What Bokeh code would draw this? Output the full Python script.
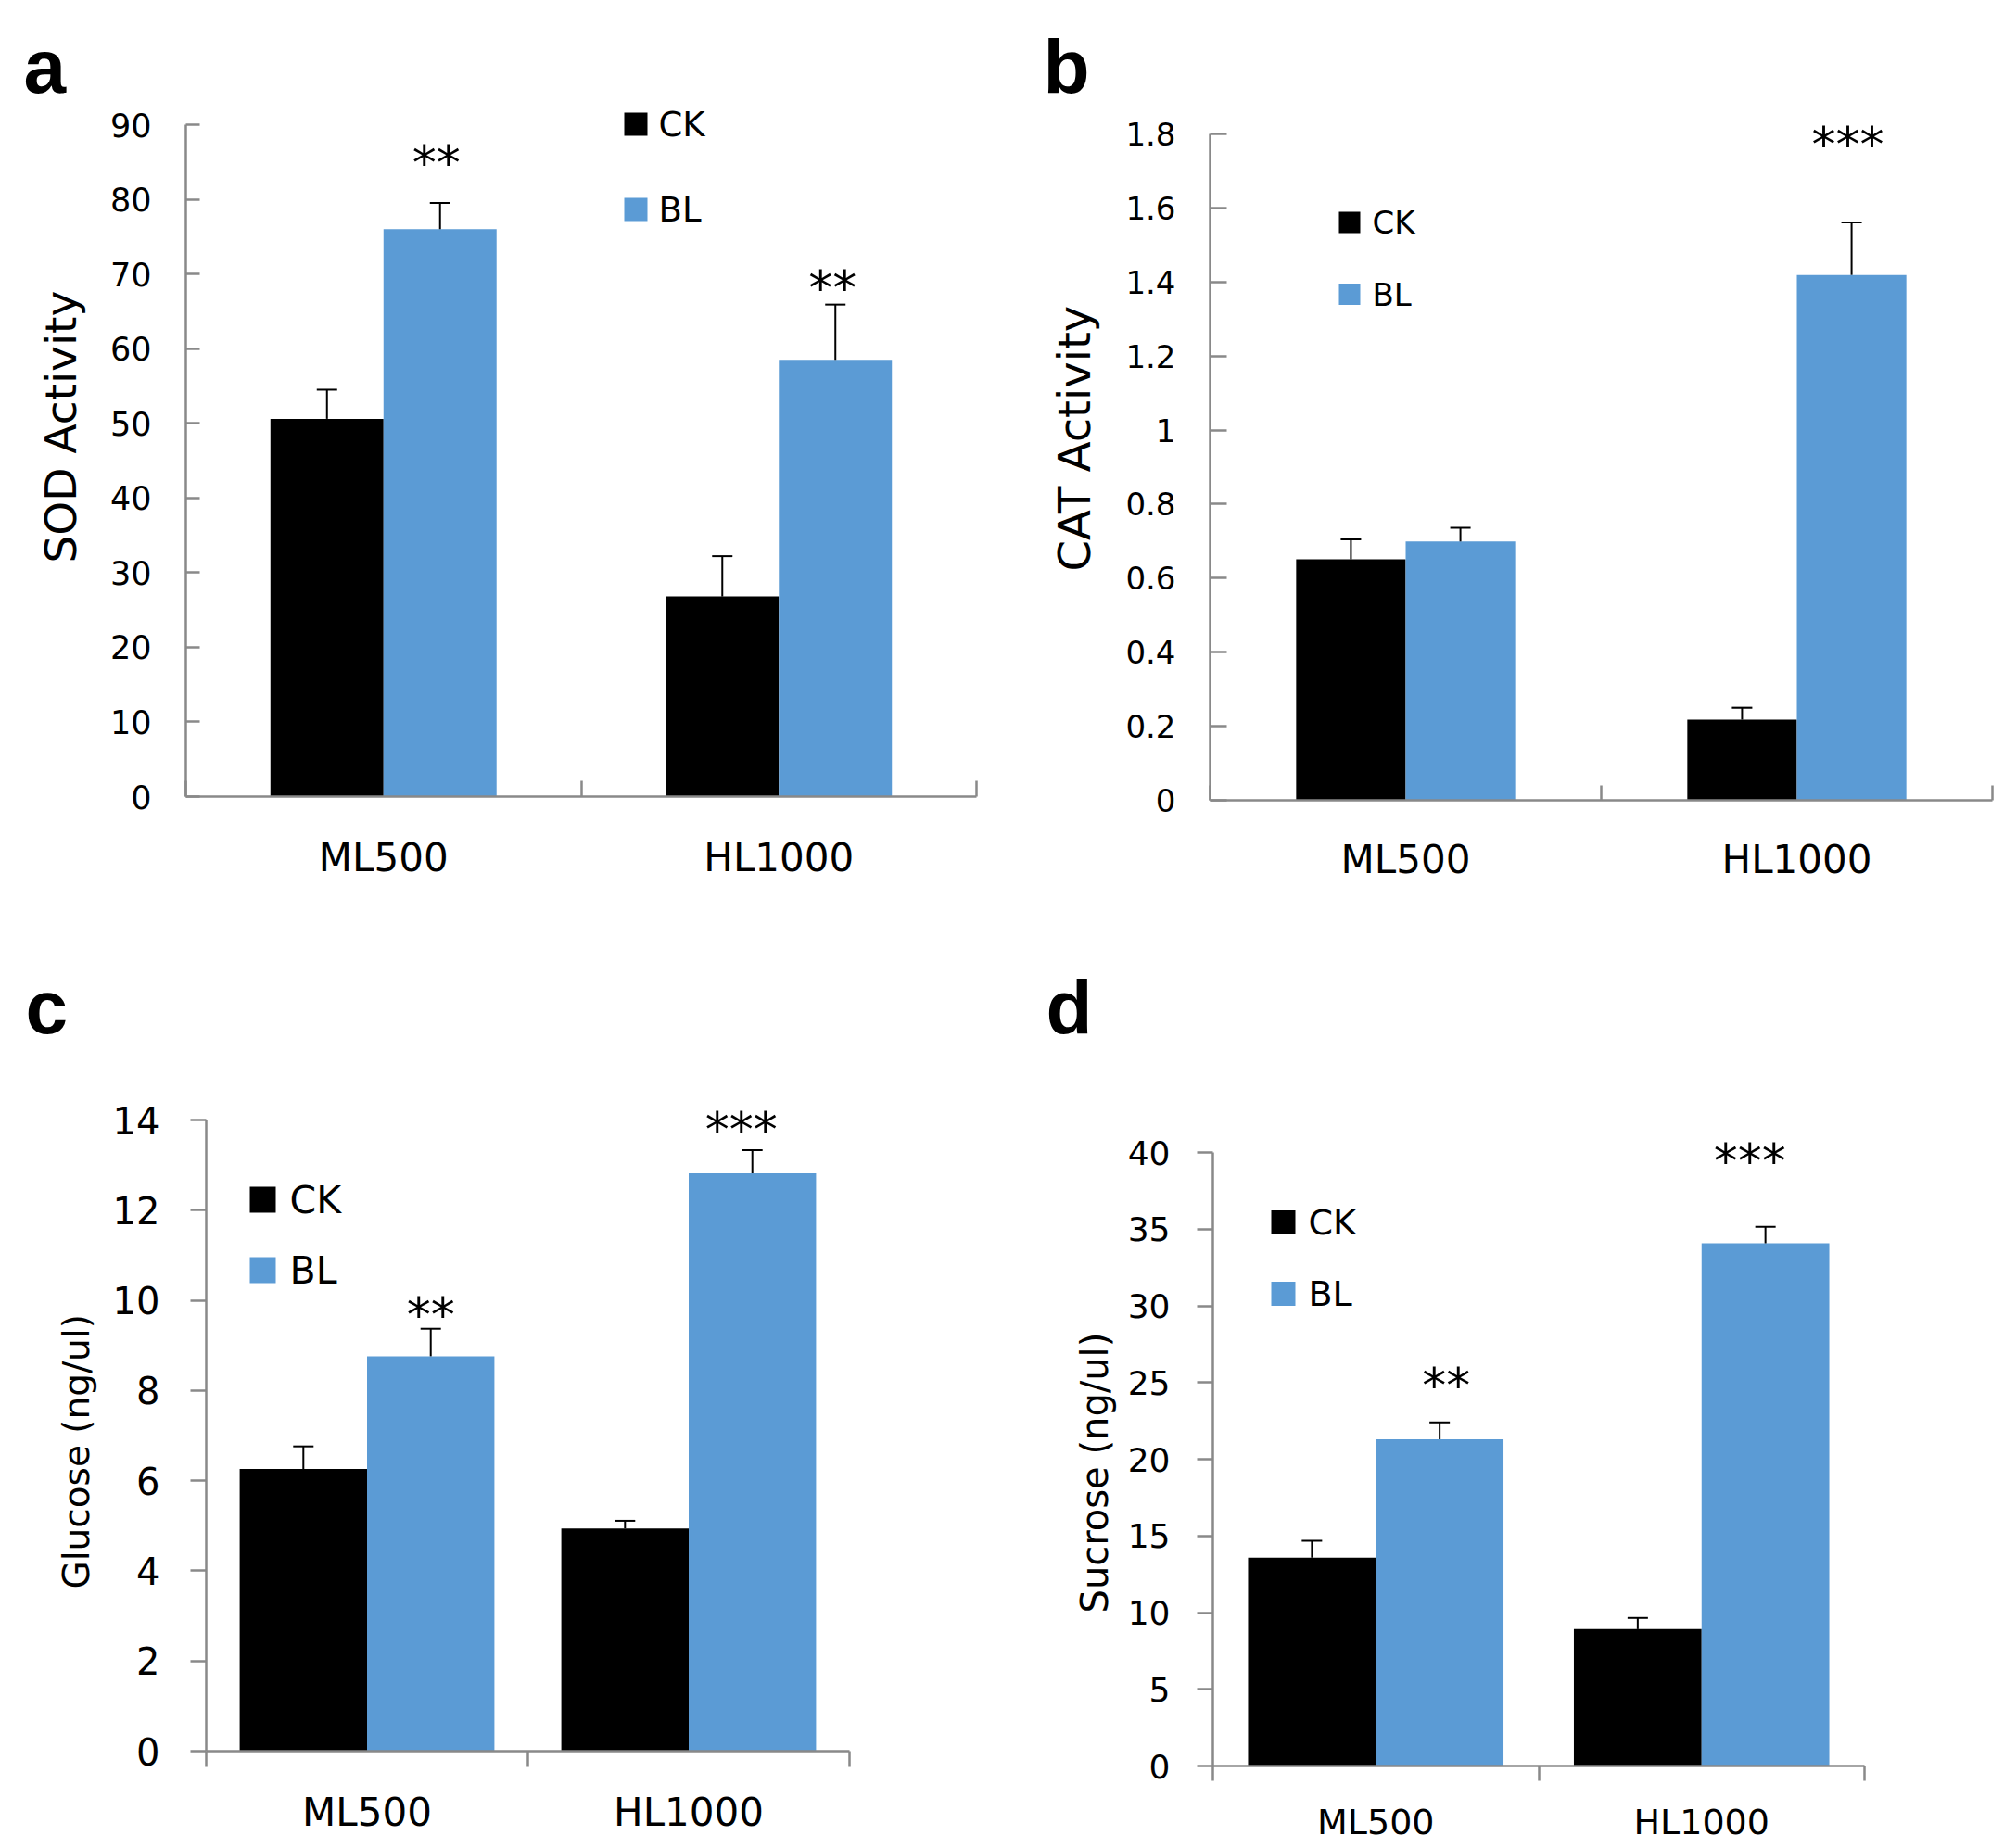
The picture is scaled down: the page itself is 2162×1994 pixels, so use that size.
from bokeh.plotting import figure
from bokeh.models import Range1d, FixedTicker, LinearAxis, Label, Whisker, TeeHead, ColumnDataSource, Title
from bokeh.layouts import column, row
from bokeh.embed import file_html
from bokeh.resources import INLINE
from bokeh.core.properties import value

# ---------------- data ----------------
categories = ["ML500", "HL1000"]
series = ["CK", "BL"]

sod_ck = [50.6, 26.8]
sod_ck_err = [3.9, 5.4]
sod_bl = [76.0, 58.5]
sod_bl_err = [3.5, 7.4]
sod_sig = ["**", "**"]
sod_ticks = [0, 10, 20, 30, 40, 50, 60, 70, 80, 90]

cat_ck = [0.651, 0.218]
cat_ck_err = [0.054, 0.032]
cat_bl = [0.699, 1.419]
cat_bl_err = [0.037, 0.142]
cat_sig = ["", "***"]
cat_ticks = [0, 0.2, 0.4, 0.6, 0.8, 1, 1.2, 1.4, 1.6, 1.8]

glu_ck = [6.26, 4.94]
glu_ck_err = [0.50, 0.17]
glu_bl = [8.76, 12.82]
glu_bl_err = [0.61, 0.51]
glu_sig = ["**", "***"]
glu_ticks = [0, 2, 4, 6, 8, 10, 12, 14]

suc_ck = [13.58, 8.92]
suc_ck_err = [1.11, 0.73]
suc_bl = [21.3, 34.08]
suc_bl_err = [1.10, 1.07]
suc_sig = ["**", "***"]
suc_ticks = [0, 5, 10, 15, 20, 25, 30, 35, 40]

# ---------------- styles / layout (pixels) ----------------
CK_COLOR = "#000000"
BL_COLOR = "#5B9BD5"
AXIS_COLOR = "#898989"
FONT = "DejaVu Sans"
LETTER_FONT = "Liberation Sans"

ROW1_TOP, ROW1_H, ROW1_FRAME_TOP = 0, 1010, 116
ROW2_TOP, ROW2_H, ROW2_FRAME_TOP = 1010, 979, 1131

panels_cfg = [
    dict(letter="a", title="SOD Activity", ticks=sod_ticks, ck=sod_ck, ck_err=sod_ck_err,
         bl=sod_bl, bl_err=sod_bl_err, sig=sod_sig,
         ox=0, fig_w=1090, L=200, R=1053, axis_top=134, B=859, row=1,
         tick_fs=35, ytick_in=15, ytick_out=0, ystand=37,
         xfs=42, xtick_in=17, xtick_out=0, xstand=41,
         title_fs=47, title_stand=45, title_end=607, bar_w=0.286,
         leg_sq=25, leg_cx=685.5, leg_cy=[133.5, 225.5], leg_tx=710, leg_fs=37,
         star_py=[168, 303], star_dx=[-4, -3], star_fs=52, letter_x=28),
    dict(letter="b", title="CAT Activity", ticks=cat_ticks, ck=cat_ck, ck_err=cat_ck_err,
         bl=cat_bl, bl_err=cat_bl_err, sig=cat_sig,
         ox=1090, fig_w=1067, L=1305, R=2149, axis_top=144, B=863, row=1,
         tick_fs=34, ytick_in=18, ytick_out=0, ystand=37,
         xfs=42, xtick_in=16, xtick_out=0, xstand=39,
         title_fs=48, title_stand=50, title_end=616, bar_w=0.28,
         leg_sq=23, leg_cx=1455.5, leg_cy=[239.5, 317], leg_tx=1480, leg_fs=34,
         star_py=[0, 148], star_dx=[0, -4], star_fs=52, letter_x=1128),
    dict(letter="c", title="Glucose (ng/ul)", ticks=glu_ticks, ck=glu_ck, ck_err=glu_ck_err,
         bl=glu_bl, bl_err=glu_bl_err, sig=glu_sig,
         ox=0, fig_w=1090, L=222, R=916, axis_top=1208, B=1889, row=2,
         tick_fs=40, ytick_in=0, ytick_out=17, ystand=33,
         xfs=42, xtick_in=0, xtick_out=17, xstand=24,
         title_fs=39, title_stand=28, title_end=1714, bar_w=0.396,
         leg_sq=28, leg_cx=283, leg_cy=[1294, 1370], leg_tx=312, leg_fs=41,
         star_py=[1411, 1211], star_dx=[0, -12], star_fs=52, letter_x=30),
    dict(letter="d", title="Sucrose (ng/ul)", ticks=suc_ticks, ck=suc_ck, ck_err=suc_ck_err,
         bl=suc_bl, bl_err=suc_bl_err, sig=suc_sig,
         ox=1090, fig_w=1067, L=1308, R=2011, axis_top=1243, B=1905, row=2,
         tick_fs=36, ytick_in=0, ytick_out=17, ystand=29,
         xfs=38, xtick_in=0, xtick_out=16, xstand=22,
         title_fs=40, title_stand=20, title_end=1740, bar_w=0.392,
         leg_sq=26, leg_cx=1384, leg_cy=[1318.5, 1395.5], leg_tx=1411, leg_fs=38,
         star_py=[1487, 1245], star_dx=[7, -17], star_fs=52, letter_x=1131),
]

STAR_DY = 7  # pixel nudge for the asterisk glyph's vertical centre


def make_panel(cfg):
    if cfg["row"] == 1:
        oy, fig_h, T = ROW1_TOP, ROW1_H, ROW1_FRAME_TOP
    else:
        oy, fig_h, T = ROW2_TOP, ROW2_H, ROW2_FRAME_TOP
    L, R, B = cfg["L"], cfg["R"], cfg["B"]
    fw, fh = R - L, B - T
    ncat = len(categories)
    ymax = cfg["ticks"][-1]
    y_end = ymax * (B - T) / (B - cfg["axis_top"])
    left_b = L - cfg["ox"]
    top_b = T - oy
    p = figure(frame_width=fw, frame_height=fh,
               x_range=Range1d(0, ncat), y_range=Range1d(0, y_end),
               x_axis_type=None, y_axis_type=None,
               output_backend="svg", toolbar_location=None,
               min_border_left=left_b, min_border_top=top_b,
               min_border_right=cfg["fig_w"] - left_b - fw,
               min_border_bottom=fig_h - top_b - fh)
    p.outline_line_color = None
    p.background_fill_color = "white"
    p.border_fill_color = "white"

    def dx(px):
        return (px - L) / fw * ncat

    def dy(py):
        return (B - py) / fh * y_end

    w = cfg["bar_w"]
    centers = [i + 0.5 for i in range(ncat)]
    src = ColumnDataSource(dict(
        x_ck=[c - w / 2 for c in centers],
        x_bl=[c + w / 2 for c in centers],
        ck=cfg["ck"], bl=cfg["bl"],
        ck_hi=[v + e for v, e in zip(cfg["ck"], cfg["ck_err"])],
        bl_hi=[v + e for v, e in zip(cfg["bl"], cfg["bl_err"])],
    ))
    p.vbar(x="x_ck", top="ck", bottom=0, width=w, source=src, fill_color=CK_COLOR, line_color=None)
    p.vbar(x="x_bl", top="bl", bottom=0, width=w, source=src, fill_color=BL_COLOR, line_color=None)
    for xs, lo, hi in (("x_ck", "ck", "ck_hi"), ("x_bl", "bl", "bl_hi")):
        p.add_layout(Whisker(source=src, base=xs, lower=lo, upper=hi, dimension="height",
                             line_color="black", line_width=2, lower_head=None,
                             upper_head=TeeHead(size=22, line_color="black", line_width=2),
                             level="overlay"))

    # y axis (line limited to the tick range)
    yt = cfg["ticks"]
    yaxis = LinearAxis(ticker=FixedTicker(ticks=yt, minor_ticks=[]), bounds=(0, ymax),
                       major_label_overrides={t: f"{t:g}" for t in yt},
                       axis_line_color=AXIS_COLOR, axis_line_width=2.5,
                       major_tick_line_color=AXIS_COLOR, major_tick_line_width=2.5,
                       major_tick_in=cfg["ytick_in"], major_tick_out=cfg["ytick_out"],
                       minor_tick_line_color=None,
                       major_label_text_font=FONT, major_label_text_font_size=f"{cfg['tick_fs']}px",
                       major_label_text_color="black", major_label_standoff=cfg["ystand"])
    p.add_layout(yaxis, "left")
    p.add_layout(Title(text=cfg["title"], align="left", vertical_align="bottom",
                       offset=B - cfg["title_end"], standoff=cfg["title_stand"],
                       text_font=FONT, text_font_size=f"{cfg['title_fs']}px",
                       text_font_style="normal", text_color="black"), "left")

    # x axis: labels at category centres, ticks at category boundaries
    xaxis = LinearAxis(ticker=FixedTicker(ticks=centers, minor_ticks=list(range(ncat + 1))),
                       major_label_overrides={c: n for c, n in zip(centers, categories)},
                       axis_line_color=AXIS_COLOR, axis_line_width=2.5,
                       major_tick_line_color=None, major_tick_in=0, major_tick_out=0,
                       minor_tick_line_color=AXIS_COLOR, minor_tick_line_width=2.5,
                       minor_tick_in=cfg["xtick_in"], minor_tick_out=cfg["xtick_out"],
                       major_label_text_font=FONT, major_label_text_font_size=f"{cfg['xfs']}px",
                       major_label_text_color="black", major_label_standoff=cfg["xstand"])
    p.add_layout(xaxis, "below")

    # significance stars
    for i, (s, py, sdx) in enumerate(zip(cfg["sig"], cfg["star_py"], cfg["star_dx"])):
        if s:
            p.add_layout(Label(x=centers[i] + w / 2, y=dy(py + STAR_DY), x_offset=sdx,
                               text=s, text_align="center",
                               text_baseline="middle", text_font=FONT,
                               text_font_size=f"{cfg['star_fs']}px", text_color="black"))

    # legend
    sq = cfg["leg_sq"]
    p.rect(x=[dx(cfg["leg_cx"])] * 2, y=[dy(v) for v in cfg["leg_cy"]], width=sq, height=sq,
           width_units="screen", height_units="screen", fill_color=[CK_COLOR, BL_COLOR], line_color=None)
    p.text(x=[dx(cfg["leg_tx"])] * 2, y=[dy(v) for v in cfg["leg_cy"]], text=series,
           text_font=value(FONT), text_font_size=value(f"{cfg['leg_fs']}px"),
           text_baseline="middle", text_align="left", text_color="black")

    # panel letter
    p.title.text = cfg["letter"]
    p.title.text_font = LETTER_FONT
    p.title.text_font_style = "bold"
    p.title.text_font_size = "82px"
    p.title.text_color = "black"
    p.title.align = "left"
    p.title.vertical_align = "bottom"
    p.title.standoff = 0
    p.title.offset = cfg["letter_x"] - 3 - L
    return p


figs = [make_panel(c) for c in panels_cfg]
layout = column(row(figs[0], figs[1]), row(figs[2], figs[3]))

open("out.html", "w").write(file_html(layout, INLINE))
